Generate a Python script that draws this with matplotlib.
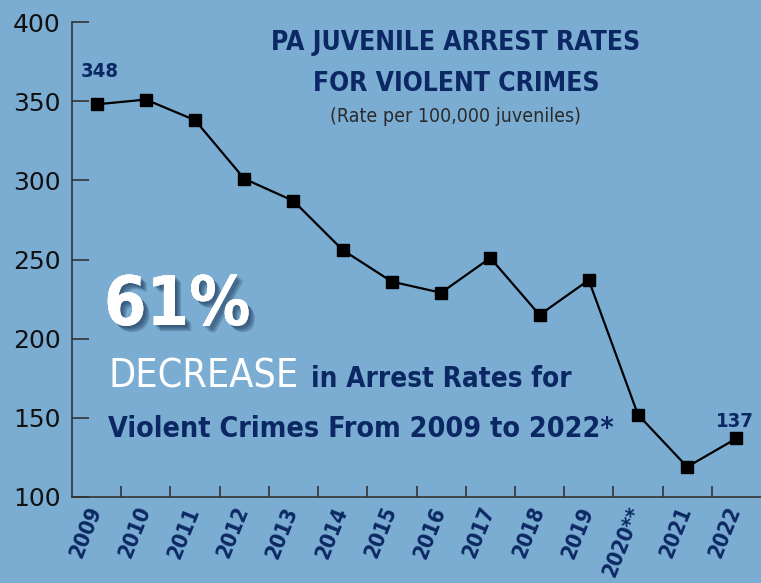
import matplotlib.pyplot as plt
import matplotlib.patheffects as pe

# data
years = ['2009', '2010', '2011', '2012', '2013', '2014', '2015',
         '2016', '2017', '2018', '2019', '2020**', '2021', '2022']
rates = [348, 351, 338, 301, 287, 256, 236, 229, 251, 215, 237, 152, 119, 137]
yticks = [100, 150, 200, 250, 300, 350, 400]

bg = '#7badd3'
navy = '#0c2864'
narrow = ['Liberation Sans Narrow', 'DejaVu Sans']

W, H = 761, 583
fig = plt.figure(figsize=(W / 100, H / 100), dpi=100)
fig.patch.set_facecolor(bg)
ax = fig.add_axes([72 / W, 1 - 497 / H, 1 - 72 / W, (497 - 22) / H])
ax.set_facecolor(bg)

x = list(range(len(years)))
ax.plot(x, rates, color='black', lw=1.6, marker='s', ms=8, zorder=3)

ax.set_xlim(-0.5, len(years) - 0.5)
ax.set_ylim(100, 400)
ax.set_yticks(yticks)
ax.set_yticklabels([str(v) for v in yticks], fontsize=18, color='#111111',
                   family='DejaVu Sans')
ax.tick_params(axis='y', direction='in', length=12, width=1.2, color='#333333', pad=8)

# x ticks sit on category boundaries, labels at category centres
ax.set_xticks([i + 0.5 for i in x[:-1]])
ax.set_xticklabels([])
ax.tick_params(axis='x', direction='in', length=8, width=1.2, color='#333333')
for i, yr in enumerate(years):
    ax.text(i - 0.02, -0.022, yr, transform=ax.get_xaxis_transform(),
            rotation=68, rotation_mode='anchor', ha='right', va='center',
            fontsize=15.5, fontweight='bold', fontstyle='normal', color=navy,
            family=narrow, fontstretch='condensed')

for s in ['top', 'right']:
    ax.spines[s].set_visible(False)
for s in ['left', 'bottom']:
    ax.spines[s].set_color('#333333')
    ax.spines[s].set_linewidth(1.2)

def fx(px):
    return px / W

def fy(py):
    return 1 - py / H

cond = dict(family=narrow, fontstretch='condensed')

# titles
fig.text(fx(456), fy(50), 'PA JUVENILE ARREST RATES', ha='center', va='baseline',
         fontsize=19, fontweight='bold', color=navy, **cond)
fig.text(fx(456), fy(91), 'FOR VIOLENT CRIMES', ha='center', va='baseline',
         fontsize=19, fontweight='bold', color=navy, **cond)
fig.text(fx(455), fy(122), '(Rate per 100,000 juveniles)', ha='center', va='baseline',
         fontsize=14, color='#2b2b2b', **cond)

# point labels
ax.annotate(str(rates[0]), (0, rates[0]), xytext=(2, 20), textcoords='offset points',
            ha='center', va='baseline', fontsize=14.5, fontweight='bold', color=navy, **cond)
ax.annotate(str(rates[-1]), (len(years) - 1, rates[-1]), xytext=(-1, 8),
            textcoords='offset points', ha='center', va='baseline', fontsize=14.5,
            fontweight='bold', color=navy, **cond)

# callout, soft shadow built from a few faint offset copies
shadow = [pe.withSimplePatchShadow(offset=(o, -o), shadow_rgbFace='#16304f', alpha=0.22)
          for o in (1.5, 2.5, 3.5, 4.5)]
fig.text(fx(104), fy(325), '61%', ha='left', va='baseline', fontsize=49,
         fontweight='bold', color='white', **cond, path_effects=shadow)
fig.text(fx(108), fy(387), 'DECREASE', ha='left', va='baseline', fontsize=28.3,
         color='white', **cond)
fig.text(fx(311), fy(387), 'in Arrest Rates for', ha='left', va='baseline', fontsize=20,
         fontweight='bold', color=navy, **cond)
fig.text(fx(108), fy(437), 'Violent Crimes From 2009 to 2022*', ha='left', va='baseline',
         fontsize=20.5, fontweight='bold', color=navy, **cond)

fig.savefig('out.png', dpi=100, facecolor=bg)
